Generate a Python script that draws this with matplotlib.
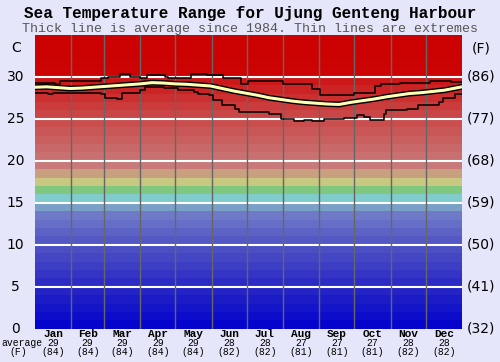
import matplotlib
matplotlib.use("Agg")
import matplotlib.pyplot as plt
import numpy as np

# ---------------- data ----------------
months = ["Jan", "Feb", "Mar", "Apr", "May", "Jun", "Jul", "Aug", "Sep", "Oct", "Nov", "Dec"]
month_avg_c = [29, 29, 29, 29, 29, 28, 28, 27, 27, 27, 28, 28]
month_avg_f = [84, 84, 84, 84, 84, 82, 82, 81, 81, 81, 82, 82]
month_days = [31, 28, 31, 30, 31, 30, 31, 31, 30, 31, 30, 31]

yticks_c = [0, 5, 10, 15, 20, 25, 30]
yticks_f = ["(32)", "(41)", "(50)", "(59)", "(68)", "(77)", "(86)"]

# average line (day of year, deg C)
avg_day = [0, 10, 20, 30, 40, 50, 60, 70, 80, 90, 100, 110, 120, 130, 140, 150, 160,
           170, 180, 190, 200, 210, 220, 230, 240, 250, 260, 270, 280, 290, 300, 310,
           320, 330, 340, 350, 365]
avg_temp = [28.75, 28.8, 28.7, 28.6, 28.65, 28.75, 28.85, 28.95, 29.05, 29.15, 29.3,
            29.25, 29.15, 29.1, 29.0, 28.9, 28.6, 28.3, 28.05, 27.8, 27.5, 27.3, 27.1,
            26.95, 26.85, 26.75, 26.7, 26.95, 27.15, 27.35, 27.6, 27.8, 28.0, 28.1,
            28.25, 28.4, 28.8]

# maximum extreme (step starts, day of year, deg C)
max_day = [0, 17, 21, 56, 62, 73, 81, 90, 96, 106, 111, 114, 133, 147, 161, 161.5,
           176, 182, 188, 212, 237, 244, 273, 291, 296, 303, 312, 319, 338, 350, 356, 365]
max_temp = [29.3, 29.1, 29.5, 29.8, 30.0, 30.3, 30.0, 29.9, 30.2, 30.2, 30.0, 29.9,
            30.3, 30.2, 29.8, 29.8, 29.1, 29.5, 29.5, 29.1, 28.6, 27.8, 28.1, 28.9,
            29.1, 29.1, 29.25, 29.25, 29.45, 29.55, 29.35, 29.35]

# minimum extreme (step starts, day of year, deg C)
min_day = [0, 11, 15, 56, 60, 70, 74, 75, 90, 94, 110, 122, 136, 139, 149, 152, 160,
           171, 174, 200, 210, 221, 230, 237, 247, 264, 275, 281, 282, 286, 298, 300,
           318, 327, 345, 349, 359, 365]
min_temp = [28.1, 27.9, 28.05, 27.95, 27.5, 27.4, 28.1, 28.1, 28.4, 28.75, 28.7, 28.4,
            28.2, 28.0, 27.8, 27.2, 26.6, 26.2, 25.8, 25.6, 25.0, 24.7, 24.8, 24.7,
            25.0, 25.1, 25.4, 25.2, 25.2, 24.8, 25.6, 26.0, 26.2, 26.6, 27.0, 27.5,
            27.9, 27.9]

# ---------------- style ----------------
bg = "#E6E6FA"
mono = ["Liberation Mono", "DejaVu Sans Mono"]

band_keys = [(0, (4, 4, 204)), (5, (44, 44, 196)), (10, (84, 88, 196)),
             (13, (110, 122, 200)), (14, (122, 160, 200)), (15, (128, 204, 204)),
             (16, (128, 200, 128)), (17, (200, 200, 128)), (18, (200, 160, 128)),
             (19, (200, 122, 122)), (20, (200, 112, 112)), (25, (202, 70, 70)),
             (29, (204, 24, 24)), (30, (204, 4, 4)), (35, (204, 0, 0))]
kt = np.array([k[0] for k in band_keys], float)
kc = np.array([k[1] for k in band_keys], float)

fig = plt.figure(figsize=(5.0, 3.62), dpi=100, facecolor=bg)
ax = fig.add_axes([0.07, 0.092, 0.854, 0.812])
ax.set_xlim(0, 365)
ax.set_ylim(0, 35)

for t in range(35):
    col = [np.interp(t, kt, kc[:, i]) / 255 for i in range(3)]
    ax.axhspan(t, t + 1, color=col, lw=0, zorder=0)

for yv in yticks_c[1:]:
    ax.axhline(yv, color="white", lw=1.5, zorder=1)

bounds = np.cumsum([0] + month_days)
for b in bounds[1:-1]:
    ax.axvline(b, color="#666666", lw=1, zorder=1)

ax.step(max_day, max_temp, where="post", color="black", lw=1.1, zorder=3)
ax.step(min_day, min_temp, where="post", color="black", lw=1.1, zorder=3)
ax.plot(avg_day, avg_temp, color="black", lw=4.2, zorder=4, solid_capstyle="butt")
ax.plot(avg_day, avg_temp, color="#FFFFB4", lw=2.2, zorder=5, solid_capstyle="butt")

ax.set_xticks([])
ax.set_yticks([])
for s in ax.spines.values():
    s.set_visible(False)

# left/right labels
for yv, fl in zip(yticks_c, yticks_f):
    ax.text(-16.5, yv, str(yv), ha="center", va="center", fontsize=10,
            family="DejaVu Sans", color="black")
    ax.text(369, yv, fl, ha="left", va="center", fontsize=10,
            family="DejaVu Sans", color="black")
ax.text(-16.5, 33.4, "C", ha="center", va="center", fontsize=10, family="DejaVu Sans")
ax.text(373, 33.4, "(F)", ha="left", va="center", fontsize=10, family="DejaVu Sans")

# month labels
centers = (bounds[:-1] + bounds[1:]) / 2
for c, m, a, f in zip(centers, months, month_avg_c, month_avg_f):
    ax.text(c, -0.65, m, ha="center", va="center", fontsize=8, family=mono,
            weight="bold")
    ax.text(c, -1.72, str(a), ha="center", va="center", fontsize=7, family=mono)
    ax.text(c, -2.8, f"({f})", ha="center", va="center", fontsize=7, family=mono)
ax.text(-11.5, -1.72, "average", ha="center", va="center", fontsize=7, family=mono)
ax.text(-14.5, -2.8, "(F)", ha="center", va="center", fontsize=7, family=mono)

fig.text(0.5, 0.964, "Sea Temperature Range for Ujung Genteng Harbour",
         ha="center", va="center", fontsize=11.5, family=mono, weight="bold")
fig.text(0.5, 0.921, "Thick line is average since 1984. Thin lines are extremes",
         ha="center", va="center", fontsize=9.6, family=mono, color="#555555")

fig.savefig("out.png", dpi=100, facecolor=bg)
